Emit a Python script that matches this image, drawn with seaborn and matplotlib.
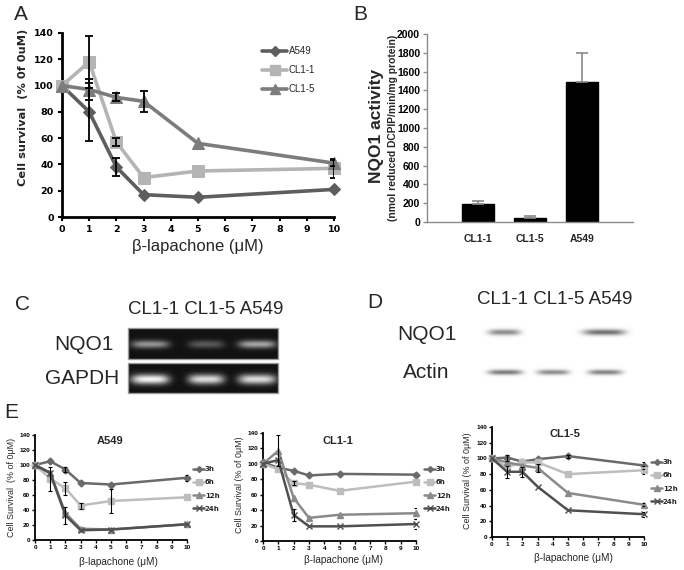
import numpy as np
import pandas as pd
import matplotlib
matplotlib.use("Agg")
import matplotlib.pyplot as plt
import seaborn as sns
from matplotlib.lines import Line2D
from matplotlib.patches import Rectangle

sns.set_style("white")
plt.rcParams["font.family"] = ["DejaVu Sans"]

# ---------------- data ----------------
conc = [0, 1, 2, 3, 5, 10]
a_labels = ["A549", "CL1-1", "CL1-5"]
a_a549 = [100, 80, 38, 17, 15, 21]
a_a549_err = [0, 22, 7, 0, 0, 0]
a_cl11 = [100, 118, 57, 30, 35, 37]
a_cl11_err = [0, 20, 3, 0, 0, 7]
a_cl15 = [100, 97, 91, 88, 56, 41]
a_cl15_err = [0, 8, 3, 8, 0, 2]

b_cells = ["CL1-1", "CL1-5", "A549"]
b_activity = [195, 40, 1490]
b_err = [30, 20, 310]

gel_lanes = ["CL1-1", "CL1-5", "A549"]
c_nqo1 = [0.55, 0.30, 0.62]
c_gapdh = [0.95, 0.85, 0.85]
d_nqo1 = [0.65, 0.0, 0.80]
d_actin = [0.75, 0.65, 0.70]

hours = ["3h", "6h", "12h", "24h"]
e_a549_vals = [[100, 105, 94, 76, 74, 83],
               [100, 82, 69, 46, 52, 57],
               [100, 90, 36, 15, 14, 21],
               [100, 89, 33, 13, 14, 21]]
e_a549_err = [[0, 0, 3, 0, 0, 4],
              [0, 16, 9, 4, 16, 0],
              [0, 0, 0, 0, 0, 0],
              [0, 0, 11, 0, 0, 0]]
e_cl11_vals = [[102, 95, 91, 85, 87, 86],
               [100, 93, 75, 73, 65, 77],
               [100, 117, 56, 30, 34, 36],
               [100, 105, 34, 19, 19, 22]]
e_cl11_err = [[0, 0, 0, 0, 0, 0],
              [0, 0, 3, 0, 0, 0],
              [0, 20, 0, 0, 0, 7],
              [0, 0, 8, 0, 0, 6]]
e_cl15_vals = [[100, 101, 96, 99, 103, 91],
               [100, 89, 95, 95, 80, 85],
               [100, 95, 91, 88, 56, 41],
               [100, 83, 83, 64, 34, 29]]
e_cl15_err = [[0, 4, 0, 0, 2, 4],
              [0, 0, 0, 0, 0, 5],
              [0, 0, 0, 5, 0, 2],
              [0, 8, 6, 0, 0, 3]]

# ---------------- figure helpers ----------------
W, H = 684, 570
fig = plt.figure(figsize=(W / 100, H / 100), dpi=100)


def add_ax(l, t, r, b):
    return fig.add_axes([l / W, 1 - b / H, (r - l) / W, (b - t) / H])


def ftext(x, y, s, **kw):
    kw.setdefault("ha", "center")
    kw.setdefault("va", "center")
    fig.text(x / W, 1 - y / H, s, **kw)


ARIAL = "Liberation Sans"

# ---------------- Panel A ----------------
axA = add_ax(62, 33, 334, 217)
a_colors = ["#5e5e5e", "#b4b4b4", "#7c7c7c"]
a_markers = ["D", "s", "^"]
a_ms = [6, 8, 8.5]
a_series = [a_a549, a_cl11, a_cl15]
a_errs = [a_a549_err, a_cl11_err, a_cl15_err]
handles = []
for lab, vals, errs, col, mk, ms in zip(a_labels, a_series, a_errs, a_colors, a_markers, a_ms):
    df = pd.DataFrame({"conc": conc, "surv": vals})
    sns.lineplot(data=df, x="conc", y="surv", ax=axA, color=col, lw=2.6,
                 marker=mk, markersize=ms, markeredgecolor=col, clip_on=False,
                 zorder=3)
    e = np.array(errs)
    m = e > 0
    axA.errorbar(np.array(conc)[m], np.array(vals)[m], yerr=e[m], fmt="none",
                 ecolor="black", elinewidth=1.3, capsize=3, capthick=1.3, zorder=4)
    handles.append(Line2D([], [], color=col, lw=2.6, marker=mk, markersize=ms - 1,
                          markeredgecolor=col))
axA.set_xlim(0, 10)
axA.set_ylim(0, 140)
axA.set_xticks(range(0, 11))
axA.set_yticks(range(0, 141, 20))
axA.set_xlabel("")
axA.set_ylabel("")
for s in ["top", "right"]:
    axA.spines[s].set_visible(False)
for s in ["left", "bottom"]:
    axA.spines[s].set_color("black")
    axA.spines[s].set_linewidth(2)
axA.tick_params(direction="out", length=3, width=1.5, colors="black", labelsize=6.8,
                pad=3, left=True, bottom=True)
for t in axA.get_xticklabels() + axA.get_yticklabels():
    t.set_fontweight("bold")
leg = axA.legend(handles, a_labels, loc="upper left", bbox_to_anchor=(262 / W, 1 - 46 / H),
                 bbox_transform=fig.transFigure, frameon=False, fontsize=7,
                 handlelength=2.6, handletextpad=0.15, labelspacing=0.95,
                 borderpad=0, borderaxespad=0)
for t in leg.get_texts():
    t.set_family(ARIAL)
ftext(198, 246, "β-lapachone (μM)", fontsize=12, family=ARIAL)
ftext(23, 107, "Cell survival  (% 0f 0uM)", fontsize=8.2, fontweight="bold", rotation=90)
ftext(21, 15, "A", fontsize=15, family=ARIAL)

# ---------------- Panel B ----------------
axB = add_ax(427, 34, 633, 222)
dfB = pd.DataFrame({"cell": b_cells, "act": b_activity})
sns.barplot(data=dfB, x="cell", y="act", order=b_cells, color="black", width=0.62,
            errorbar=None, ax=axB, saturation=1, edgecolor="black")
axB.errorbar(range(len(b_cells)), b_activity, yerr=[np.zeros(len(b_err)), b_err],
             fmt="none", ecolor="#8a8a8a", elinewidth=1.2, capsize=4.5, capthick=1.2)
axB.set_xlim(-0.98, 2.98)
axB.set_ylim(0, 2000)
axB.set_yticks(range(0, 2001, 200))
axB.set_xlabel("")
axB.set_ylabel("")
for s in ["top", "right"]:
    axB.spines[s].set_visible(False)
for s in ["left", "bottom"]:
    axB.spines[s].set_color("#8c8c8c")
    axB.spines[s].set_linewidth(1)
axB.tick_params(axis="y", direction="out", length=3, width=1, colors="#8c8c8c",
                labelcolor="black", labelsize=7.5, pad=2, left=True)
axB.tick_params(axis="x", length=0, labelsize=7.5, pad=9)
for t in axB.get_xticklabels() + axB.get_yticklabels():
    t.set_fontweight("bold")
    t.set_family(ARIAL)
ftext(376, 126, "NQO1 activity", fontsize=12.5, fontweight="bold", rotation=90, family=ARIAL)
ftext(393, 128, "(nmol reduced DCPIP/min/mg protein)", fontsize=7.4, fontweight="bold",
      rotation=90, family=ARIAL)
ftext(360, 15, "B", fontsize=15, family=ARIAL)


# ---------------- gels ----------------
def band_image(x0, x1, y0, y1, centers, cy, hw, hh, ints):
    xs = np.arange(x0, x1, 0.5)
    ys = np.arange(y0, y1, 0.5)
    X, Y = np.meshgrid(xs, ys)
    img = np.zeros_like(X, dtype=float)
    for cx, w, a in zip(centers, hw, ints):
        img += a * np.exp(-np.abs((X - cx) / w) ** 4) * np.exp(-((Y - cy) / hh) ** 2)
    return img


# Panel C (RT-PCR)
axC = add_ax(126, 326, 280, 395)
axC.set_xlim(126, 280)
axC.set_ylim(395, 326)
axC.axis("off")
c_centers = [150, 206, 257]
c_rows = [(328, 359, 344, 4.0, c_nqo1), (363, 393, 379, 5.0, c_gapdh)]
for (y0, y1, cy, hh, ints) in c_rows:
    img = 0.07 + 0.93 * band_image(128, 278, y0, y1, c_centers, cy, [19, 18, 19], hh, ints)
    axC.imshow(np.clip(img, 0, 1), cmap="gray", vmin=0, vmax=1,
               extent=(128, 278, y1, y0), aspect="auto", interpolation="bilinear")
    axC.add_patch(Rectangle((128, y0), 150, y1 - y0, fill=False, ec="#9a9a9a", lw=1))
ftext(206, 310, "CL1-1 CL1-5 A549", fontsize=13.5, family=ARIAL)
ftext(84, 345, "NQO1", fontsize=15, family=ARIAL)
ftext(82, 379, "GAPDH", fontsize=15, family=ARIAL)
ftext(23, 305, "C", fontsize=15, family=ARIAL)

# Panel D (western blot)
axD = add_ax(470, 318, 640, 388)
axD.set_xlim(470, 640)
axD.set_ylim(388, 318)
axD.axis("off")
d_centers = [504, 553, 604]
dark = band_image(470, 640, 318, 352, d_centers, 332, [16, 16, 21], 3.0, d_nqo1)
axD.imshow(np.clip(1 - 0.7 * dark, 0, 1), cmap="gray", vmin=0, vmax=1,
           extent=(470, 640, 352, 318), aspect="auto", interpolation="bilinear")
dark = band_image(470, 640, 352, 388, [505, 553, 605], 372, [17, 16, 17], 2.6, d_actin)
axD.imshow(np.clip(1 - 0.7 * dark, 0, 1), cmap="gray", vmin=0, vmax=1,
           extent=(470, 640, 388, 352), aspect="auto", interpolation="bilinear")
ftext(555, 300, "CL1-1 CL1-5 A549", fontsize=13.5, family=ARIAL)
ftext(427, 334, "NQO1", fontsize=15, family=ARIAL)
ftext(426, 372, "Actin", fontsize=15, family=ARIAL)
ftext(375, 303, "D", fontsize=15, family=ARIAL)

# ---------------- Panel E ----------------
e_colors = ["#6a6a6a", "#bdbdbd", "#8a8a8a", "#505050"]
e_markers = ["D", "s", "^", "x"]
e_ms = [3.5, 4.5, 4.5, 4.5]

e_specs = [
    ("A549", e_a549_vals, e_a549_err, (35, 435, 187, 540), (110, 441), (193, 466),
     (12, 487, "Cell Survival  (% of 0μM)"), (118, 562)),
    ("CL1-1", e_cl11_vals, e_cl11_err, (263, 433, 416, 541), (338, 441), (424, 466),
     (240, 485, "Cell Survival (% of 0μM)"), (343, 560)),
    ("CL1-5", e_cl15_vals, e_cl15_err, (492, 427, 644, 537), (565, 434), (651, 459),
     (467, 481, "Cell Survival (% of 0μM)"), (573, 558)),
]

for title, vals_all, errs_all, box, tpos, lpos, ylab, xpos in e_specs:
    ax = add_ax(*box)
    hnd = []
    for hr, vals, errs, col, mk, ms in zip(hours, vals_all, errs_all, e_colors, e_markers, e_ms):
        df = pd.DataFrame({"conc": conc, "surv": vals})
        sns.lineplot(data=df, x="conc", y="surv", ax=ax, color=col, lw=1.8, marker=mk,
                     markersize=ms, markeredgecolor=col, markeredgewidth=1.0,
                     clip_on=False, zorder=3)
        e = np.array(errs)
        m = e > 0
        if m.any():
            ax.errorbar(np.array(conc)[m], np.array(vals)[m], yerr=e[m], fmt="none",
                        ecolor="black", elinewidth=0.8, capsize=1.5, capthick=0.8, zorder=4)
        hnd.append(Line2D([], [], color=col, lw=1.8, marker=mk, markersize=ms - 0.5,
                          markeredgecolor=col, markeredgewidth=1.0))
    ax.set_xlim(0, 10)
    ax.set_ylim(0, 140)
    ax.set_xticks(range(0, 11))
    ax.set_yticks(range(0, 141, 20))
    ax.set_xlabel("")
    ax.set_ylabel("")
    for s in ["top", "right"]:
        ax.spines[s].set_visible(False)
    for s in ["left", "bottom"]:
        ax.spines[s].set_color("black")
        ax.spines[s].set_linewidth(1.3)
    ax.tick_params(direction="out", length=2, width=1, colors="black", labelsize=4.6,
                   pad=1.5, left=True, bottom=True)
    for t in ax.get_xticklabels() + ax.get_yticklabels():
        t.set_fontweight("bold")
        t.set_family(ARIAL)
    ftext(tpos[0], tpos[1], title, fontsize=8, fontweight="bold", family=ARIAL)
    lg = ax.legend(hnd, hours, loc="upper left", bbox_to_anchor=(lpos[0] / W, 1 - lpos[1] / H),
                   bbox_transform=fig.transFigure, frameon=False, fontsize=5,
                   handlelength=1.6, handletextpad=0.1, labelspacing=1.05,
                   borderpad=0, borderaxespad=0)
    for t in lg.get_texts():
        t.set_fontweight("bold")
    ftext(ylab[0], ylab[1], ylab[2], fontsize=6.4, rotation=90, family=ARIAL)
    ftext(xpos[0], xpos[1], "β-lapachone (μM)", fontsize=7.2, family=ARIAL)

ftext(11, 412, "E", fontsize=15, family=ARIAL)

fig.savefig("out.png", dpi=100)
